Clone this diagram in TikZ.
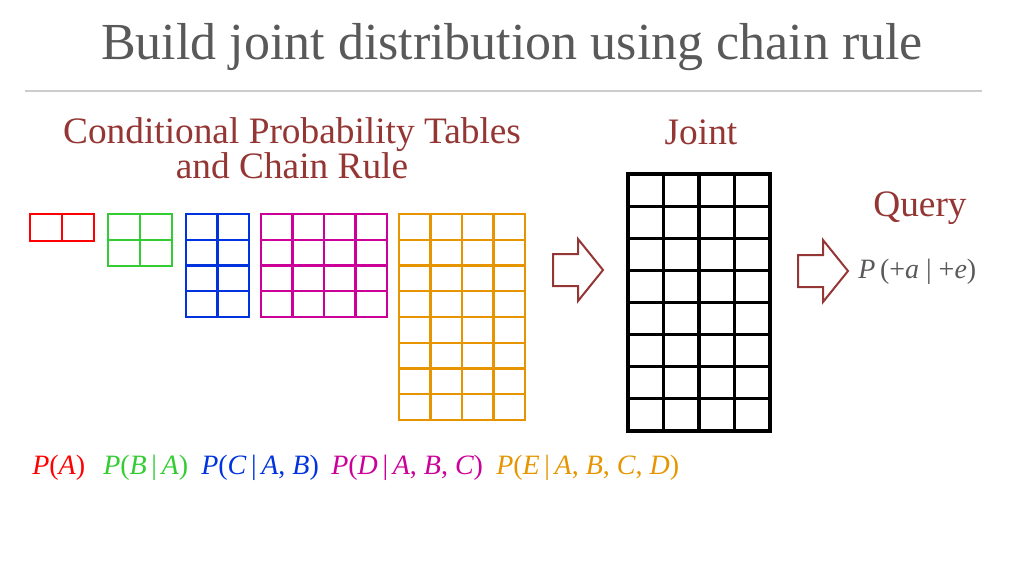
\documentclass[tikz,border=0pt]{standalone}
\usepackage{fontspec}
\setmainfont{Liberation Serif}
\definecolor{dred}{HTML}{943634}
\definecolor{tgray}{HTML}{595959}
\definecolor{colR}{HTML}{FF0000}
\definecolor{colG}{HTML}{33CC33}
\definecolor{colB}{HTML}{0033DD}
\definecolor{colM}{HTML}{CC0099}
\definecolor{colO}{HTML}{E69500}
\begin{document}
\begin{tikzpicture}[x=0.75pt,y=-0.75pt,
  lab/.style={text=dred,font=\fontsize{28}{25}\selectfont,align=center},
  gl/.style={line width=1.6pt},
  barrow/.style={draw=dred,line width=1.5pt,fill=white,line join=miter},
  mth/.style={font=\fontsize{21}{22}\selectfont\itshape,anchor=west,inner sep=0pt}]
\useasboundingbox (0,0) rectangle (1024,576);
\node[text=tgray,font=\fontsize{39}{40}\selectfont] (title) at (512,47) {Build joint distribution using chain rule};
\draw[gray!40,line width=0.8pt] (25,91) -- (982,91);
\node[lab] (cpt) at (292,148) {Conditional Probability Tables\\and Chain Rule};
\node[lab] (joint) at (701,132) {Joint};
\node[lab] (query) at (920,208) {Query};
\draw[draw=colR,gl] (30,214) rectangle (94,241) (62,214)--(62,241);
\draw[draw=colG,gl] (108,214) rectangle (172,266) (140,214)--(140,266) (108,240)--(172,240);
\draw[draw=colB,gl] (186,214) rectangle (249,317);
\foreach \i in {1,2,3} \draw[draw=colB,gl] (186,214+25.75*\i) -- (249,214+25.75*\i);
\draw[draw=colB,gl] (217.5,214)--(217.5,317);
\draw[draw=colM,gl] (261,214) rectangle (387,317);
\foreach \i in {1,2,3} {\draw[draw=colM,gl] (261,214+25.75*\i) -- (387,214+25.75*\i);
  \draw[draw=colM,gl] (261+31.5*\i,214) -- (261+31.5*\i,317);}
\draw[draw=colO,gl] (399,214) rectangle (525,420);
\foreach \i in {1,...,7} \draw[draw=colO,gl] (399,214+25.75*\i) -- (525,214+25.75*\i);
\foreach \i in {1,2,3} \draw[draw=colO,gl] (399+31.5*\i,214) -- (399+31.5*\i,420);
\draw[black,line width=2.4pt] (628,174) rectangle (770,431);
\foreach \i in {1,...,7} \draw[black,line width=2.4pt] (628,174+32.125*\i) -- (770,174+32.125*\i);
\foreach \i in {1,2,3} \draw[black,line width=2.4pt] (628+35.5*\i,174) -- (628+35.5*\i,431);
\draw[barrow] (553,254) -- (578,254) -- (578,239) -- (603,270) -- (578,301) -- (578,286) -- (553,286) -- cycle;
\draw[barrow] (798,255) -- (823,255) -- (823,240) -- (848,271) -- (823,302) -- (823,287) -- (798,287) -- cycle;
\node[mth,text=tgray] (q) at (858,272) {P\,\upshape(+\itshape a\upshape~|~+\itshape e\upshape)};
\node[mth,text=colR] (pa) at (32,468) {P\upshape(\itshape A\upshape)};
\node[mth,text=colG] (pb) at (103,468) {P\upshape(\itshape B\upshape\,|\,\itshape A\upshape)};
\node[mth,text=colB] (pc) at (201,468) {P\upshape(\itshape C\upshape\,|\,\itshape A\upshape, \itshape B\upshape)};
\node[mth,text=colM] (pd) at (331,468) {P\upshape(\itshape D\upshape\,|\,\itshape A\upshape, \itshape B\upshape, \itshape C\upshape)};
\node[mth,text=colO] (pe) at (496,468) {P\upshape(\itshape E\upshape\,|\,\itshape A\upshape, \itshape B\upshape, \itshape C\upshape, \itshape D\upshape)};
\end{tikzpicture}
\end{document}
